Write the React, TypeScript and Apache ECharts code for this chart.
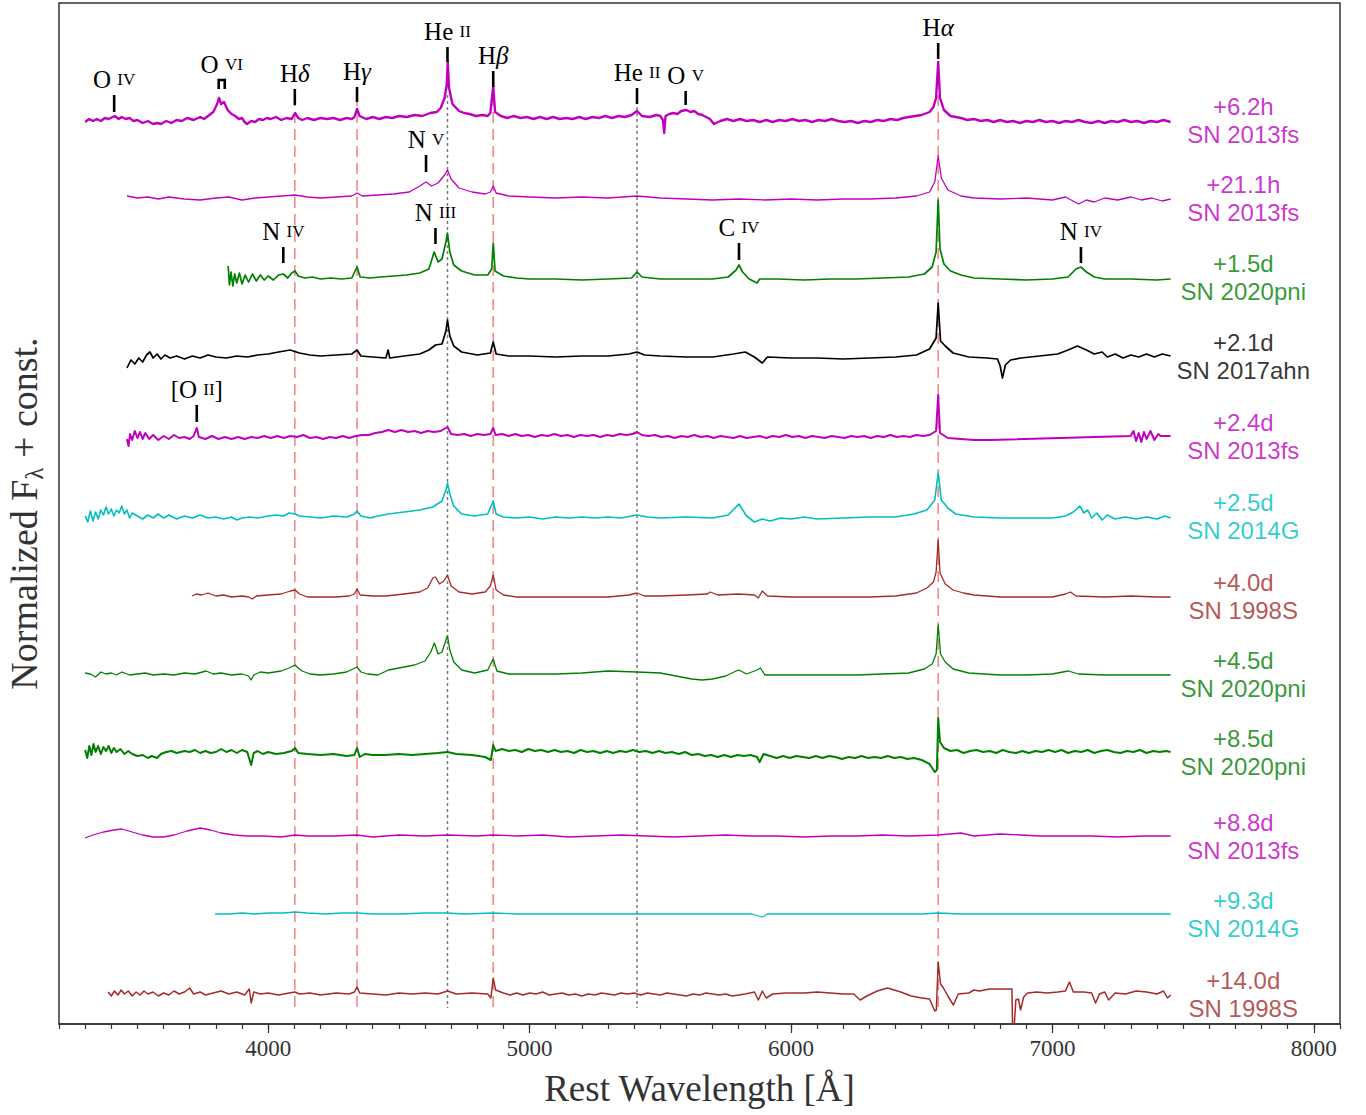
import React, { useEffect, useRef } from "react";
import * as echarts from "echarts";

// ---------- axis ----------
const X_MIN = 3200;
const X_MAX = 8100;
const Y_MIN = 0;
const Y_MAX = 102.1;
const MAJOR_TICKS = [4000, 5000, 6000, 7000, 8000];

// ---------- spectra meta ----------
const SPEC_EPOCHS = ["+6.2h", "+21.1h", "+1.5d", "+2.1d", "+2.4d", "+2.5d", "+4.0d", "+4.5d", "+8.5d", "+8.8d", "+9.3d", "+14.0d"];
const SPEC_NAMES = ["SN 2013fs", "SN 2013fs", "SN 2020pni", "SN 2017ahn", "SN 2013fs", "SN 2014G", "SN 1998S", "SN 2020pni", "SN 2020pni", "SN 2013fs", "SN 2014G", "SN 1998S"];
const SPEC_OFFSETS = [90.4, 82.6, 74.7, 66.8, 58.8, 50.8, 42.8, 35.0, 27.2, 18.8, 11.0, 3.0];
const LABEL_WAVE = 7730;

// ---------- spectra: [wavelength (Å), normalized flux relative to const] ----------
const F_13FS_62H = [
  [3300, -0.2], [3315, 0.1], [3330, -0.1], [3345, 0.1], [3360, -0.1], [3375, 0.2], [3390, 0.1], [3405, 0.3], [3414, 0.4], [3428, 0.1],
  [3440, 0.3], [3455, 0.1], [3470, 0.2], [3485, -0.1], [3500, 0], [3520, -0.3], [3540, -0.1], [3560, -0.4], [3575, -0.3], [3590, -0.4],
  [3610, -0.1], [3630, -0.3], [3650, 0], [3670, -0.1], [3690, 0.2], [3715, 0], [3740, 0.3], [3755, 0.1], [3770, 0.4], [3790, 0.8],
  [3805, 1.6], [3812, 2.2], [3820, 1.6], [3831, 1.8], [3845, 1.0], [3860, 0.6], [3874, 0.4], [3888, 0.1], [3900, 0.2], [3910, -0.2],
  [3919, -0.4], [3935, -0.1], [3950, -0.2], [3965, 0.1], [3980, 0], [3995, 0.2], [4010, 0.1], [4030, 0.3], [4050, 0], [4070, 0.2],
  [4090, 0.1], [4103, 0.7], [4115, 0.2], [4130, 0], [4150, 0.2], [4175, 0], [4200, 0.2], [4225, 0.1], [4250, 0.2], [4275, 0],
  [4300, 0.2], [4320, 0.1], [4330, 0.3], [4340, 1.1], [4350, 0.4], [4375, 0.1], [4400, 0.3], [4425, 0.1], [4450, 0.3], [4475, 0.2],
  [4500, 0.4], [4530, 0.3], [4560, 0.5], [4590, 0.4], [4620, 0.7], [4645, 0.8], [4660, 1.2], [4675, 2.2], [4683, 3.5], [4687, 5.8],
  [4692, 3.2], [4705, 1.6], [4730, 0.9], [4750, 0.7], [4770, 0.6], [4795, 0.4], [4820, 0.5], [4840, 0.4], [4850, 0.7], [4861, 3.4],
  [4868, 0.8], [4890, 0.4], [4915, 0.2], [4940, 0.4], [4965, 0.2], [4990, 0.3], [5015, 0.1], [5040, 0.3], [5065, 0.1], [5090, 0.3],
  [5115, 0.1], [5140, 0.2], [5165, 0.1], [5190, 0.3], [5215, 0.1], [5240, 0.3], [5265, 0.2], [5290, 0.4], [5315, 0.2], [5340, 0.4],
  [5365, 0.3], [5390, 0.5], [5411, 0.9], [5430, 0.4], [5460, 0.3], [5485, 0.5], [5500, 0.4], [5510, 0], [5515, -1.3], [5520, 0.4],
  [5535, 0.6], [5550, 0.7], [5565, 0.6], [5580, 0.9], [5600, 1.0], [5615, 0.8], [5630, 0.9], [5645, 0.6], [5660, 0.5], [5675, 0.3],
  [5690, 0.1], [5705, -0.4], [5730, -0.1], [5755, 0.1], [5780, -0.1], [5805, 0.1], [5830, -0.1], [5855, 0], [5880, -0.2], [5905, 0],
  [5930, -0.2], [5955, 0], [5980, -0.1], [6005, 0.1], [6030, -0.1], [6055, 0], [6080, -0.2], [6105, 0], [6130, -0.1], [6155, 0.1],
  [6180, -0.1], [6205, -0.2], [6230, -0.1], [6255, -0.3], [6280, -0.1], [6305, -0.2], [6330, 0], [6355, -0.1], [6380, 0.1], [6405, 0],
  [6430, 0.2], [6450, 0.3], [6475, 0.4], [6500, 0.5], [6530, 0.8], [6545, 1.3], [6555, 2.2], [6563, 5.8], [6570, 2.2], [6585, 1.0],
  [6610, 0.4], [6630, 0.3], [6650, 0.2], [6675, 0], [6700, 0.1], [6725, -0.1], [6750, 0], [6775, -0.2], [6800, 0], [6825, -0.2],
  [6850, -0.1], [6875, -0.3], [6900, -0.1], [6925, -0.2], [6950, 0], [6975, -0.2], [7000, -0.1], [7025, -0.3], [7050, -0.1], [7075, -0.2],
  [7100, 0], [7125, -0.2], [7150, -0.3], [7175, -0.1], [7200, -0.3], [7225, -0.1], [7250, -0.2], [7275, 0], [7300, -0.2], [7325, -0.1],
  [7350, -0.3], [7375, -0.1], [7400, -0.2], [7425, 0], [7452, -0.2],
];

const F_13FS_211H = [
  [3460, 0.2], [3500, 0], [3540, 0.1], [3580, -0.1], [3620, 0.1], [3680, -0.1], [3740, -0.2], [3800, 0], [3850, 0.1], [3900, -0.2],
  [3950, 0], [4000, 0.1], [4050, 0.2], [4103, 0.3], [4150, 0.1], [4200, 0], [4260, 0.1], [4320, 0.2], [4340, 0.5], [4360, 0.2],
  [4420, 0.3], [4480, 0.4], [4540, 0.6], [4580, 1.2], [4604, 1.6], [4625, 1.2], [4650, 1.5], [4675, 2.3], [4686, 2.8], [4700, 1.9],
  [4730, 1.0], [4780, 0.6], [4830, 0.4], [4850, 0.6], [4861, 1.2], [4872, 0.5], [4920, 0.2], [5000, 0.1], [5100, 0], [5200, 0.1],
  [5300, 0], [5411, 0.2], [5500, 0], [5600, -0.1], [5700, -0.2], [5800, -0.1], [5900, -0.2], [6000, -0.1], [6100, -0.2], [6200, -0.1],
  [6300, -0.1], [6400, 0], [6480, 0.2], [6530, 0.6], [6550, 1.6], [6563, 4.2], [6575, 2.0], [6600, 0.8], [6650, 0.2], [6700, 0],
  [6800, -0.1], [6900, 0], [7000, -0.2], [7050, 0.1], [7100, -0.6], [7130, -0.2], [7160, -0.4], [7200, 0], [7250, -0.2], [7300, 0.1],
  [7340, -0.2], [7380, 0], [7420, -0.3], [7452, -0.1],
];

const F_20PNI_15D = [
  [3847, 1.1], [3852, -0.8], [3858, 0.5], [3865, -0.9], [3872, 0.3], [3880, -0.6], [3890, 0.4], [3900, -0.7], [3912, 0.2], [3925, -0.5],
  [3940, 0.3], [3955, -0.4], [3970, 0.2], [3985, -0.3], [4000, 0.1], [4020, -0.3], [4040, 0.2], [4058, 0.3], [4075, -0.1], [4090, 0.4],
  [4103, 0.6], [4115, 0.1], [4140, -0.1], [4170, 0], [4200, -0.2], [4240, -0.1], [4280, -0.2], [4320, -0.1], [4340, 1.0], [4352, 0],
  [4390, -0.1], [4430, 0], [4480, 0.1], [4530, 0.2], [4580, 0.4], [4615, 0.8], [4635, 2.5], [4650, 1.5], [4665, 1.8], [4680, 3.5],
  [4686, 4.4], [4695, 2.5], [4710, 1.2], [4740, 0.6], [4790, 0.2], [4840, 0.2], [4855, 0.8], [4861, 3.4], [4868, 0.6], [4900, 0.1],
  [4950, -0.1], [5000, -0.2], [5100, -0.2], [5200, -0.3], [5300, -0.2], [5390, -0.1], [5411, 0.5], [5430, 0], [5500, -0.2], [5600, -0.2],
  [5700, -0.2], [5760, 0], [5790, 0.7], [5801, 1.2], [5815, 0.5], [5840, -0.2], [5870, -0.6], [5880, -0.2], [5950, -0.2], [6050, -0.3],
  [6150, -0.2], [6250, -0.2], [6350, -0.1], [6450, 0], [6510, 0.3], [6540, 1.0], [6555, 2.5], [6563, 7.7], [6570, 2.8], [6585, 1.3],
  [6610, 0.6], [6650, 0.2], [6700, -0.1], [6800, -0.2], [6900, -0.3], [7000, -0.2], [7060, 0], [7090, 0.8], [7109, 1.0], [7130, 0.5],
  [7160, 0], [7200, -0.2], [7300, -0.2], [7400, -0.3], [7452, -0.2],
];

const F_17AHN_21D = [
  [3460, -1.2], [3475, -0.4], [3490, -0.8], [3505, -0.2], [3520, -0.6], [3535, 0.1], [3548, 0.4], [3560, -0.2], [3575, 0.2], [3590, -0.3],
  [3605, 0.1], [3625, -0.2], [3650, 0], [3680, -0.3], [3710, 0], [3740, -0.2], [3770, 0.1], [3800, -0.1], [3840, -0.2], [3880, 0],
  [3920, -0.1], [3960, 0.1], [4000, 0.2], [4040, 0.4], [4084, 0.6], [4120, 0.3], [4160, 0.1], [4200, 0], [4260, 0.1], [4320, 0.2],
  [4340, 0.6], [4355, 0], [4400, -0.1], [4450, -0.2], [4459, 0.6], [4465, -0.2], [4520, 0], [4580, 0.2], [4615, 0.6], [4640, 1.1],
  [4665, 1.2], [4680, 2.5], [4686, 3.6], [4695, 2.0], [4710, 1.0], [4740, 0.4], [4800, 0.1], [4850, 0.3], [4861, 1.4], [4872, 0.2],
  [4920, 0], [5000, 0], [5100, -0.1], [5200, 0], [5300, 0], [5380, 0.2], [5411, 0.4], [5440, 0.1], [5500, 0], [5600, -0.1],
  [5700, -0.1], [5780, 0.2], [5825, 0.4], [5860, -0.1], [5890, -0.7], [5910, -0.1], [6000, -0.2], [6100, -0.2], [6200, -0.3], [6300, -0.2],
  [6400, -0.1], [6480, 0.1], [6530, 0.7], [6555, 1.8], [6563, 5.3], [6572, 1.5], [6590, 1.0], [6620, 0.3], [6680, -0.1], [6750, -0.2],
  [6790, -0.3], [6800, -1.0], [6809, -2.2], [6820, -0.9], [6840, -0.4], [6880, -0.2], [6950, 0], [7020, 0.2], [7060, 0.6], [7096, 1.0],
  [7130, 0.6], [7160, 0.2], [7190, 0.4], [7210, -0.1], [7240, 0.2], [7270, -0.2], [7300, 0.1], [7330, -0.1], [7360, 0.2], [7390, -0.1],
  [7420, 0.2], [7452, 0],
];

const F_13FS_24D = [
  [3460, -0.3], [3466, -1.0], [3472, 0.2], [3480, -0.4], [3490, 0.5], [3500, -0.2], [3510, 0.4], [3520, -0.3], [3530, 0.3], [3545, -0.3],
  [3560, 0.1], [3580, -0.4], [3600, 0], [3620, -0.3], [3640, 0.1], [3660, -0.2], [3680, -0.1], [3700, -0.3], [3715, 0], [3727, 0.8],
  [3735, -0.1], [3760, -0.3], [3785, 0], [3810, -0.3], [3835, -0.1], [3860, -0.3], [3885, -0.1], [3910, -0.3], [3935, -0.1], [3960, -0.2],
  [3985, 0], [4010, -0.2], [4035, 0], [4060, -0.2], [4085, 0], [4110, -0.1], [4135, 0.1], [4160, -0.2], [4185, -0.1], [4210, -0.3],
  [4235, -0.1], [4260, -0.2], [4285, 0], [4310, -0.2], [4335, 0], [4360, 0.1], [4385, 0.1], [4410, 0.3], [4435, 0.4], [4460, 0.6],
  [4485, 0.4], [4510, 0.6], [4535, 0.4], [4560, 0.5], [4585, 0.3], [4610, 0.5], [4635, 0.4], [4660, 0.5], [4686, 0.9], [4700, 0.2],
  [4725, 0.1], [4750, 0.2], [4775, 0], [4800, 0.2], [4825, 0.1], [4850, 0.2], [4861, 0.8], [4870, 0.1], [4895, 0.2], [4920, 0],
  [4945, 0.2], [4970, 0], [4995, 0.1], [5020, -0.1], [5045, 0.1], [5070, 0], [5095, 0.2], [5120, 0], [5145, 0.1], [5170, -0.1],
  [5195, 0.1], [5220, 0], [5245, 0.1], [5270, -0.1], [5295, 0.1], [5320, 0], [5345, 0.2], [5370, 0.1], [5395, 0.2], [5411, 0.4],
  [5430, 0.1], [5455, 0], [5480, 0.1], [5505, -0.1], [5530, 0], [5555, -0.2], [5580, 0], [5605, -0.1], [5630, 0.1], [5655, -0.1],
  [5680, 0], [5705, -0.2], [5730, 0], [5755, -0.1], [5780, -0.2], [5805, 0], [5830, -0.2], [5855, -0.1], [5880, 0], [5905, -0.2],
  [5930, 0], [5955, -0.1], [5980, 0.1], [6005, -0.1], [6030, 0], [6055, -0.2], [6080, 0], [6105, -0.1], [6130, -0.2], [6155, 0],
  [6180, -0.1], [6205, -0.2], [6230, 0], [6255, -0.1], [6280, 0], [6305, -0.2], [6330, 0], [6355, -0.1], [6380, 0.1], [6405, -0.1],
  [6430, 0], [6455, -0.1], [6480, 0.1], [6505, 0], [6530, 0.1], [6555, 0.5], [6563, 4.1], [6570, 0.3], [6600, -0.2], [6650, -0.3],
  [6700, -0.4], [6763, -0.4], [7299, 0], [7310, 0.5], [7320, -0.5], [7330, 0.3], [7340, -0.6], [7350, 0.4], [7360, -0.3], [7375, 0.5],
  [7390, -0.4], [7405, 0.2], [7414, 0], [7452, 0],
];

const F_14G_25D = [
  [3300, 0], [3310, -0.6], [3320, 0.5], [3330, -0.5], [3340, 0.4], [3350, -0.3], [3360, 0.6], [3370, 0.1], [3380, 0.9], [3390, 0.2],
  [3400, 0.7], [3410, 0], [3420, 0.6], [3430, 0.3], [3440, 1.0], [3450, 0.2], [3460, 0.6], [3470, -0.2], [3480, 0.3], [3500, 0],
  [3520, -0.3], [3540, 0.1], [3560, -0.2], [3580, 0.2], [3600, -0.2], [3620, 0.1], [3650, -0.3], [3680, 0], [3710, -0.2], [3740, 0.1],
  [3770, -0.2], [3800, -0.1], [3830, -0.3], [3860, -0.1], [3880, -0.4], [3900, -0.2], [3930, -0.1], [3960, -0.2], [4000, 0], [4030, 0.1],
  [4060, 0], [4080, 0.3], [4103, 0.2], [4120, 0], [4160, -0.1], [4200, -0.2], [4250, 0], [4300, -0.1], [4330, 0.2], [4340, 0.5],
  [4355, 0], [4390, -0.2], [4420, 0], [4460, 0.2], [4520, 0.4], [4580, 0.6], [4630, 0.9], [4665, 1.5], [4680, 2.6], [4686, 3.3],
  [4695, 2.2], [4710, 1.0], [4740, 0.2], [4790, 0], [4840, 0.2], [4861, 1.5], [4872, 0.2], [4900, -0.1], [4950, -0.2], [5000, -0.1],
  [5050, -0.3], [5100, -0.1], [5150, -0.2], [5200, -0.1], [5250, -0.2], [5300, -0.1], [5350, -0.2], [5411, 0.1], [5450, -0.1], [5500, -0.2],
  [5600, -0.1], [5700, -0.2], [5760, 0.1], [5801, 1.2], [5830, 0], [5860, -0.6], [5890, -0.3], [5920, -0.5], [5960, -0.2], [6000, -0.3],
  [6050, -0.1], [6100, -0.3], [6200, -0.2], [6300, -0.1], [6400, -0.1], [6470, 0.2], [6520, 0.6], [6550, 1.6], [6563, 4.3], [6575, 1.6],
  [6600, 0.8], [6630, 0.2], [6700, -0.1], [6800, -0.2], [6900, -0.2], [7000, -0.2], [7050, 0], [7080, 0.4], [7105, 1.0], [7120, 0.3],
  [7135, 0.6], [7150, -0.2], [7170, 0.3], [7190, -0.4], [7210, 0.1], [7240, -0.3], [7280, -0.1], [7320, -0.3], [7360, -0.1], [7400, -0.3],
  [7430, 0], [7452, -0.2],
];

const F_98S_40D = [
  [3709, 0], [3725, 0.2], [3745, 0.1], [3770, 0.3], [3800, 0], [3830, 0.1], [3860, -0.1], [3900, 0], [3925, -0.1], [3939, -0.3],
  [3955, 0], [4000, 0.1], [4050, 0.2], [4085, 0.5], [4103, 0.6], [4120, 0.2], [4150, -0.1], [4200, -0.1], [4260, -0.1], [4310, 0],
  [4330, 0.2], [4340, 0.7], [4352, 0.1], [4400, 0], [4450, 0], [4520, 0.2], [4580, 0.4], [4610, 0.8], [4630, 1.8], [4640, 1.9],
  [4655, 1.2], [4672, 1.5], [4686, 2.1], [4700, 1.0], [4730, 0.4], [4780, 0.2], [4830, 0.4], [4850, 1.0], [4861, 2.1], [4872, 0.6],
  [4900, 0.1], [4950, -0.1], [5000, -0.1], [5100, -0.1], [5200, -0.1], [5300, -0.1], [5380, 0.1], [5411, 0.3], [5440, 0], [5500, 0],
  [5600, 0.1], [5680, 0.2], [5691, 0.4], [5720, 0.1], [5800, 0.2], [5860, 0.1], [5875, -0.2], [5890, 0.5], [5910, 0], [6000, -0.1],
  [6100, -0.1], [6200, -0.1], [6300, -0.1], [6400, 0], [6480, 0.3], [6520, 0.8], [6545, 1.4], [6555, 2.4], [6563, 5.6], [6570, 2.3],
  [6590, 1.2], [6620, 0.6], [6660, 0.3], [6700, 0.1], [6800, -0.1], [6900, -0.1], [7000, -0.1], [7050, 0.2], [7069, 0.4], [7090, 0],
  [7200, -0.1], [7300, 0], [7400, -0.1], [7452, -0.1],
];

const F_20PNI_45D = [
  [3300, 0.1], [3320, 0], [3340, -0.3], [3360, 0.2], [3380, 0], [3400, 0.1], [3420, -0.1], [3440, 0.2], [3470, -0.1], [3500, 0],
  [3530, 0.1], [3560, -0.1], [3600, 0], [3640, -0.1], [3680, 0.1], [3720, 0], [3763, 0.3], [3790, 0], [3820, 0.1], [3860, -0.1],
  [3900, 0], [3925, -0.2], [3935, -0.6], [3945, -0.1], [3970, 0.2], [4000, 0.1], [4050, 0.3], [4080, 0.6], [4103, 0.9], [4115, 0.6],
  [4130, 0.3], [4160, 0], [4200, -0.1], [4250, 0], [4300, 0.2], [4340, 0.7], [4355, 0.2], [4380, 0], [4420, -0.1], [4460, 0.4],
  [4500, 0.6], [4560, 0.9], [4600, 1.3], [4622, 2.2], [4636, 3.1], [4650, 2.0], [4665, 2.2], [4680, 3.4], [4686, 3.8], [4695, 2.4],
  [4710, 1.2], [4740, 0.4], [4790, 0.1], [4840, 0.4], [4861, 1.5], [4875, 0.3], [4920, 0], [5000, 0], [5100, 0], [5200, 0.1],
  [5300, 0.3], [5411, 0.2], [5500, 0.1], [5560, -0.2], [5620, -0.5], [5660, -0.6], [5700, -0.5], [5750, -0.2], [5790, 0.3], [5801, 0.4],
  [5830, 0], [5870, 0.4], [5883, 0.6], [5900, -0.1], [5950, -0.1], [6050, -0.1], [6150, -0.1], [6250, -0.1], [6350, 0], [6450, 0.1],
  [6510, 0.5], [6540, 1.0], [6555, 2.0], [6563, 4.9], [6572, 2.0], [6590, 1.2], [6620, 0.5], [6680, 0.1], [6800, -0.1], [6900, -0.1],
  [7000, 0], [7060, 0.3], [7100, 0], [7200, -0.1], [7300, -0.1], [7400, -0.1], [7452, -0.1],
];

const F_20PNI_85D = [
  [3300, 0.2], [3308, -0.6], [3316, 0.6], [3324, -0.3], [3332, 0.8], [3340, 0], [3350, 0.6], [3360, -0.2], [3370, 0.5], [3380, 0.1],
  [3390, 0.6], [3400, -0.1], [3410, 0.4], [3420, 0], [3435, 0.3], [3450, -0.2], [3465, 0.1], [3480, -0.2], [3500, -0.4], [3520, -0.3],
  [3540, -0.6], [3555, -0.4], [3575, -0.6], [3590, -0.2], [3610, 0], [3630, 0.1], [3650, -0.1], [3680, 0.1], [3700, 0], [3720, 0.2],
  [3740, -0.1], [3760, 0.1], [3780, -0.1], [3800, 0], [3820, 0.3], [3840, 0], [3860, 0.2], [3880, -0.1], [3900, 0.2], [3920, 0],
  [3935, -1.3], [3945, -0.1], [3960, 0.1], [3980, -0.2], [4000, 0], [4030, -0.2], [4060, -0.1], [4090, 0.1], [4103, 0.4], [4115, -0.1],
  [4150, -0.2], [4200, -0.3], [4250, -0.2], [4300, -0.4], [4330, -0.3], [4340, 0.4], [4350, -0.5], [4370, -0.2], [4400, -0.3], [4450, -0.3],
  [4500, -0.2], [4550, -0.3], [4600, -0.2], [4650, -0.1], [4686, 0], [4720, -0.2], [4780, -0.3], [4830, -0.5], [4852, -0.8], [4861, 0.7],
  [4870, 0.1], [4895, 0.3], [4920, 0.1], [4945, 0.2], [4970, 0], [4995, 0.3], [5020, 0.1], [5045, 0.2], [5070, 0], [5095, 0.2],
  [5120, 0], [5145, 0.1], [5170, -0.1], [5195, 0.2], [5220, 0], [5245, 0.1], [5270, -0.1], [5295, 0.1], [5320, -0.1], [5345, 0.1],
  [5370, 0], [5395, 0.2], [5420, 0], [5445, 0.1], [5470, -0.1], [5495, 0.1], [5520, -0.1], [5545, 0], [5570, -0.2], [5595, 0],
  [5620, -0.3], [5645, -0.2], [5670, -0.4], [5695, -0.3], [5720, -0.5], [5745, -0.3], [5770, -0.5], [5795, -0.3], [5820, -0.4], [5845, -0.3],
  [5870, -0.5], [5880, -1.0], [5895, -0.2], [5920, -0.4], [5945, -0.6], [5970, -0.4], [5995, -0.6], [6020, -0.4], [6045, -0.5], [6070, -0.6],
  [6095, -0.4], [6120, -0.6], [6145, -0.4], [6170, -0.5], [6195, -0.7], [6220, -0.5], [6245, -0.6], [6270, -0.4], [6295, -0.6], [6320, -0.5],
  [6345, -0.6], [6370, -0.4], [6395, -0.6], [6420, -0.5], [6445, -0.7], [6470, -0.6], [6500, -0.8], [6530, -1.2], [6550, -2.0], [6558, -1.8],
  [6563, 3.4], [6570, 1.0], [6585, 0.4], [6610, 0.1], [6635, 0.2], [6660, -0.1], [6685, 0.1], [6710, 0.2], [6735, 0], [6760, 0.1],
  [6785, -0.1], [6810, 0.2], [6835, 0], [6860, -0.1], [6885, 0.1], [6910, -0.1], [6935, 0.1], [6960, 0], [6985, 0.2], [7010, 0],
  [7035, 0.2], [7060, -0.1], [7085, 0.1], [7110, 0], [7135, 0.2], [7160, -0.1], [7185, 0.1], [7210, 0.2], [7235, 0], [7260, -0.1],
  [7285, 0.1], [7310, 0], [7335, 0.2], [7360, -0.1], [7385, 0.1], [7410, 0], [7435, 0.1], [7452, 0],
];

const F_13FS_88D = [
  [3300, -0.2], [3330, 0.1], [3370, 0.4], [3410, 0.6], [3440, 0.7], [3480, 0.4], [3520, 0.1], [3560, -0.1], [3600, -0.1], [3640, 0.1],
  [3690, 0.5], [3740, 0.8], [3780, 0.6], [3820, 0.3], [3870, 0.1], [3920, 0], [3980, 0], [4050, -0.1], [4103, 0.1], [4150, 0],
  [4250, 0], [4340, 0.1], [4400, -0.1], [4500, 0.1], [4600, 0], [4686, 0.1], [4800, 0], [4861, 0.1], [4950, 0], [5050, 0.1],
  [5150, -0.1], [5250, 0], [5350, 0.1], [5450, 0], [5550, -0.1], [5650, 0], [5750, 0.1], [5850, 0], [5950, 0], [6050, -0.1],
  [6150, 0], [6250, 0], [6350, 0.1], [6450, 0], [6563, 0.1], [6650, 0.3], [6700, 0], [6800, 0.2], [6880, 0.1], [6950, 0],
  [7050, 0], [7150, 0], [7250, -0.1], [7350, 0], [7452, 0],
];

const F_14G_93D = [
  [3797, 0], [3850, 0], [3900, 0.1], [3950, 0], [4000, 0.1], [4060, 0.1], [4103, 0.2], [4150, 0.1], [4220, 0], [4280, 0.1],
  [4340, 0.1], [4400, 0], [4500, 0], [4600, 0.1], [4686, 0.1], [4750, 0], [4861, 0.1], [4950, 0], [5100, 0], [5250, 0],
  [5411, 0], [5550, 0], [5700, 0], [5850, 0], [5890, -0.3], [5910, 0], [6050, 0], [6200, 0], [6350, 0], [6500, 0],
  [6563, 0.1], [6650, 0], [6800, 0], [6950, 0], [7100, 0], [7250, 0], [7350, 0], [7452, 0],
];

const F_98S_140D = [
  [3388, 0.2], [3400, -0.2], [3412, 0.3], [3425, -0.1], [3438, 0.4], [3450, 0], [3465, 0.3], [3480, -0.2], [3495, 0.2], [3510, -0.1],
  [3525, 0.3], [3540, 0], [3560, 0.2], [3580, -0.2], [3600, 0.1], [3620, -0.1], [3640, 0.3], [3660, 0], [3680, 0.2], [3700, 0.6],
  [3715, 0], [3740, 0.2], [3760, -0.1], [3790, 0.1], [3820, 0.3], [3850, 0], [3880, 0.2], [3910, -0.1], [3928, 0.5], [3935, -0.9],
  [3945, 0.2], [3970, 0], [4000, 0.1], [4040, -0.1], [4080, 0.1], [4103, 0.2], [4120, 0], [4160, 0.1], [4200, -0.1], [4260, 0.1],
  [4310, 0], [4330, 0.2], [4340, 0.7], [4350, 0.1], [4400, 0], [4450, -0.1], [4500, 0.1], [4550, 0], [4600, 0.1], [4650, 0],
  [4686, 0.3], [4720, 0], [4780, 0.1], [4840, 0], [4852, -0.4], [4861, 1.6], [4870, 0.4], [4900, 0.1], [4925, -0.1], [4950, 0.1],
  [4975, -0.1], [5000, 0.1], [5025, 0], [5050, 0.2], [5075, -0.1], [5100, 0], [5125, 0.1], [5150, -0.1], [5175, 0], [5200, -0.2],
  [5225, 0], [5250, -0.1], [5275, 0.1], [5300, 0], [5325, -0.1], [5350, 0.1], [5375, 0], [5400, 0.1], [5425, -0.1], [5450, 0.1],
  [5475, 0], [5500, -0.1], [5525, 0.1], [5550, 0], [5575, -0.1], [5600, -0.2], [5625, 0], [5650, -0.1], [5675, 0.1], [5700, 0],
  [5725, -0.1], [5750, 0], [5775, -0.2], [5800, -0.1], [5825, 0], [5860, 0.2], [5875, -0.6], [5890, 0.3], [5905, -0.4], [5930, 0],
  [5980, 0.1], [6050, 0.1], [6100, 0.2], [6150, 0.1], [6200, 0], [6240, 0], [6265, -0.6], [6290, -0.2], [6330, 0.3], [6369, 0.6],
  [6420, 0.2], [6460, -0.2], [6500, -0.4], [6530, -0.5], [6550, -1.7], [6556, -1.6], [6563, 3.2], [6572, 1.0], [6583, 0.6], [6600, -0.2],
  [6621, -1.1], [6640, 0], [6680, 0.1], [6700, 0.4], [6720, 0.3], [6760, 0.5], [6800, 0.5], [6845, 0.5], [6848, -4.0], [6852, -4.0],
  [6860, -0.6], [6870, -0.5], [6878, -1.6], [6890, -0.3], [6905, 0.1], [6940, 0.2], [6980, 0.1], [7020, 0.2], [7050, 0.3], [7065, 1.2],
  [7080, 0.2], [7120, 0.2], [7150, 0.1], [7165, -0.9], [7180, 0], [7200, 0.2], [7215, -0.6], [7240, 0.1], [7280, 0], [7320, 0.3],
  [7360, 0.2], [7400, 0], [7425, 0.3], [7440, -0.4], [7452, -0.1],
];

const SPECTRA = [
  F_13FS_62H, F_13FS_211H, F_20PNI_15D, F_17AHN_21D, F_13FS_24D, F_14G_25D,
  F_98S_40D, F_20PNI_45D, F_20PNI_85D, F_13FS_88D, F_14G_93D, F_98S_140D,
];

// ---------- line identifications ----------
const MARKER_NAMES = ["O IV", "O VI", "Hδ", "Hγ", "He II", "Hβ", "He II", "O V", "Hα", "N V", "N IV", "N III", "C IV", "N IV", "[O II]"];
const MARKER_WAVE_A = [3411, 3811, 4102, 4340, 4686, 4861, 5411, 5597, 6563, 4604, 4058, 4640, 5801, 7109, 3727];
const MARKER_WAVE_B = [3411, 3834, 4102, 4340, 4686, 4861, 5411, 5597, 6563, 4604, 4058, 4640, 5801, 7109, 3727];
const MARKER_TOP = [92.9, 94.4, 93.5, 93.7, 97.7, 95.3, 93.6, 93.3, 98.1, 86.9, 77.7, 79.6, 78.1, 77.7, 61.9];
const MARKER_BOTTOM = [91.2, 93.5, 91.9, 92.2, 96.2, 93.7, 92.0, 91.9, 96.5, 85.2, 76.1, 78.0, 76.4, 76.1, 60.2];

// ---------- reference lines ----------
const H_LINES = [4102, 4340, 4861, 6563];
const HEII_LINES = [4686, 5411];
const REF_TOP = 92.9;
const REF_BOTTOM = 1.6;

const COLOR_KEYS = ["m", "m", "g", "k", "m", "c", "b", "g", "g", "m", "c", "b"];

function toRich(name: string): string {
  if (/^H[αβγδ]$/.test(name)) return `{r|H}{i|${name[1]}}`;
  if (name.startsWith("[")) {
    const inner = name.slice(1, -1).split(" ");
    return `{r|[${inner[0]} }{s|${inner[1]}}{r|]}`;
  }
  const parts = name.split(" ");
  return `{r|${parts[0]} }{s|${parts[1]}}`;
}

export default function App() {
  const ref = useRef<HTMLDivElement>(null);
  useEffect(() => {
    const chart = echarts.init(ref.current!, null, { renderer: "svg" });
    const PALETTE: Record<string, string> = { m: "#bf00bf", g: "#008000", k: "#000000", c: "#00bfbf", b: "#a52a2a" };
    const WIDTHS = [2.4, 1.3, 1.7, 1.7, 2.0, 1.6, 1.3, 1.3, 2.0, 1.3, 1.3, 1.5];
    const serif = "'Liberation Serif', 'DejaVu Serif', serif";
    const sans = "'Liberation Sans', 'DejaVu Sans', sans-serif";

    const refSeries: any[] = [];
    H_LINES.forEach((w) =>
      refSeries.push({
        type: "line", data: [[w, REF_TOP], [w, REF_BOTTOM]], symbol: "none", silent: true, z: 1,
        lineStyle: { color: "#f28a8a", width: 1.6, type: [11, 6] },
      })
    );
    HEII_LINES.forEach((w) =>
      refSeries.push({
        type: "line", data: [[w, REF_TOP], [w, REF_BOTTOM]], symbol: "none", silent: true, z: 1,
        lineStyle: { color: "#7a7a7a", width: 1.5, type: [3, 3] },
      })
    );

    const specSeries = SPECTRA.map((s, i) => ({
      type: "line",
      data: s.map(([w, f]) => [w, +(SPEC_OFFSETS[i] + f).toFixed(3)]),
      symbol: "none",
      silent: true,
      z: 2,
      clip: true,
      lineStyle: { color: PALETTE[COLOR_KEYS[i]], width: WIDTHS[i], join: "round" },
    }));

    const labelSeries = {
      type: "scatter",
      symbol: "circle",
      symbolSize: 1,
      itemStyle: { color: "rgba(0,0,0,0)" },
      silent: true,
      z: 4,
      data: SPEC_OFFSETS.map((o, i) => ({
        value: [LABEL_WAVE, o],
        label: {
          show: true,
          position: "inside",
          formatter: `${SPEC_EPOCHS[i]}\n${SPEC_NAMES[i]}`,
          color: PALETTE[COLOR_KEYS[i]],
          fontFamily: sans,
          fontSize: 24,
          lineHeight: 28,
          align: "center",
          verticalAlign: "middle",
        },
      })),
    };

    const rich = {
      r: { fontFamily: serif, fontSize: 25, color: "#1a1a1a" },
      s: { fontFamily: serif, fontSize: 17, color: "#1a1a1a" },
      i: { fontFamily: serif, fontSize: 25, fontStyle: "italic", color: "#1a1a1a" },
    };

    const markerSeries = {
      type: "custom",
      silent: true,
      z: 5,
      clip: false,
      encode: { x: 0, y: 1 },
      data: MARKER_NAMES.map((n, i) => [MARKER_WAVE_A[i], MARKER_TOP[i], MARKER_BOTTOM[i], MARKER_WAVE_B[i]]),
      renderItem: (params: any, api: any) => {
        const i = params.dataIndex;
        const a = api.value(0), top = api.value(1), bot = api.value(2), b = api.value(3);
        const pAt = api.coord([a, top]);
        const pAb = api.coord([a, bot]);
        const pBt = api.coord([b, top]);
        const pBb = api.coord([b, bot]);
        const tickStyle = { stroke: "#000", lineWidth: 2.6, fill: "none" };
        const mark =
          a === b
            ? { type: "line", shape: { x1: pAt[0], y1: pAt[1], x2: pAb[0], y2: pAb[1] }, style: tickStyle }
            : { type: "polyline", shape: { points: [pAb, pAt, pBt, pBb] }, style: tickStyle };
        return {
          type: "group",
          children: [
            mark,
            {
              type: "text",
              x: (pAt[0] + pBt[0]) / 2,
              y: pAt[1] - 3,
              style: { text: toRich(MARKER_NAMES[i]), rich, align: "center", verticalAlign: "bottom" },
            },
          ],
        };
      },
    };

    chart.setOption({
      animation: false,
      backgroundColor: "#ffffff",
      grid: {
        left: 59, right: 26, top: 3, bottom: 91, show: true, borderColor: "#333", borderWidth: 1.5,
        backgroundColor: "transparent", containLabel: false, outerBoundsMode: "none",
      },
      xAxis: [
        {
          type: "value",
          min: X_MIN,
          max: X_MAX,
          interval: 100,
          axisLine: { show: true, lineStyle: { color: "#333", width: 1.5 } },
          axisTick: { show: true, length: 5, lineStyle: { color: "#333", width: 1.2 } },
          axisLabel: {
            show: true,
            margin: 13,
            color: "#333",
            fontFamily: serif,
            fontSize: 23,
            formatter: (v: number) => (MAJOR_TICKS.includes(v) ? String(v) : ""),
          },
          splitLine: { show: false },
          name: "Rest Wavelength [Å]",
          nameLocation: "middle",
          nameGap: 46,
          nameTextStyle: { color: "#333", fontFamily: serif, fontSize: 37 },
        },
        {
          type: "value",
          min: X_MIN,
          max: X_MAX,
          position: "bottom",
          axisLine: { show: false },
          axisTick: { show: true, length: 9, customValues: MAJOR_TICKS, lineStyle: { color: "#333", width: 1.2 } },
          axisLabel: { show: false },
          splitLine: { show: false },
        },
      ],
      yAxis: {
        type: "value",
        min: Y_MIN,
        max: Y_MAX,
        axisLine: { show: false },
        axisTick: { show: false },
        axisLabel: { show: false },
        splitLine: { show: false },
        name: "{a|Normalized F}{b|λ}{a| + const.}",
        nameLocation: "middle",
        nameGap: 12,
        nameTextStyle: {
          rich: {
            a: { fontFamily: serif, fontSize: 38, color: "#333", lineHeight: 42, verticalAlign: "top" },
            b: { fontFamily: serif, fontSize: 25, color: "#333", lineHeight: 25, padding: [21, 0, 0, 0], verticalAlign: "bottom" },
          },
        },
      },
      series: [...refSeries, ...specSeries, labelSeries, markerSeries],
    });
    return () => chart.dispose();
  }, []);
  return <div ref={ref} style={{ position: "fixed", left: 0, top: 0, width: 1366, height: 1115, background: "#fff" }} />;
}
